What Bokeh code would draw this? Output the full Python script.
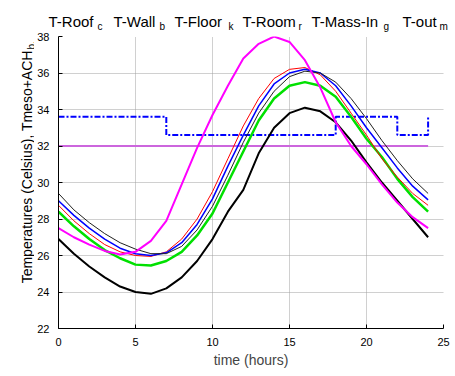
import math
from bokeh.plotting import figure
from bokeh.layouts import column, row
from bokeh.models import Label, SingleIntervalTicker, Range1d
from bokeh.embed import file_html
from bokeh.resources import INLINE

hours = list(range(25))
t_thin_black = [29.4, 28.5, 27.8, 27.2, 26.7, 26.35, 26.1, 26.1, 26.5, 27.4, 28.7, 30.4, 32.2,
                33.8, 35.0, 35.8, 36.1, 36.0, 35.5, 34.6, 33.5, 32.3, 31.2, 30.2, 29.4]
t_blue = [29.0, 28.2, 27.5, 26.9, 26.4, 26.1, 26.0, 26.15, 26.7, 27.7, 29.1, 30.9, 32.6,
          34.2, 35.4, 36.0, 36.2, 36.0, 35.3, 34.2, 33.0, 31.9, 30.8, 29.8, 29.05]
t_red = [28.75, 27.9, 27.2, 26.6, 26.2, 26.0, 25.95, 26.2, 26.9, 28.0, 29.5, 31.3, 33.1,
         34.6, 35.7, 36.2, 36.3, 35.9, 35.0, 33.8, 32.6, 31.3, 30.3, 29.4, 28.75]
t_green = [28.4, 27.6, 26.9, 26.3, 25.85, 25.5, 25.45, 25.7, 26.2, 27.1, 28.3, 30.0, 31.7,
           33.4, 34.6, 35.3, 35.5, 35.3, 34.7, 33.6, 32.4, 31.4, 30.2, 29.2, 28.4]
t_black = [26.9, 26.1, 25.4, 24.8, 24.3, 24.0, 23.9, 24.2, 24.8, 25.7, 26.9, 28.4, 29.6,
           31.6, 33.0, 33.8, 34.1, 33.9, 33.3, 32.3, 31.1, 30.0, 29.0, 28.0, 27.0]
t_out = [27.5, 27.0, 26.6, 26.25, 26.05, 26.2, 26.8, 27.9, 29.9, 31.9, 33.7, 35.3, 36.8,
         37.6, 38.0, 37.7, 36.7, 35.2, 33.3, 32.0, 31.0, 29.9, 28.9, 28.1, 27.5]
t_meso_ach = [33.6] * 7 + [32.6] * 11 + [33.6] * 4 + [32.6] * 2 + [33.6]
t_const = [32.0] * 25

title_items = ["T-Roof", "T-Wall", "T-Floor", "T-Room", "T-Mass-In", "T-out"]
title_subs = ["c", "b", "k", "r", "g", "m"]

FONT = "Liberation Sans"
TITLE_H = 32
YLAB_W = 34
BORDER_L, BORDER_T = 24, 4
MAIN_W = BORDER_L + 385 + 10
TOTAL_W = YLAB_W + MAIN_W
MAIN_H = BORDER_T + 298 + 36


def blank(w, h):
    f = figure(width=w, height=h, output_backend="svg", toolbar_location=None,
               x_range=Range1d(0, w), y_range=Range1d(0, h),
               x_axis_type=None, y_axis_type=None, min_border=0)
    f.outline_line_color = None
    f.grid.visible = False
    return f


# ---- main plot ----
p = figure(width=MAIN_W, height=MAIN_H, output_backend="svg", toolbar_location=None,
           x_range=Range1d(0, 25), y_range=Range1d(22, 38),
           min_border_left=BORDER_L, min_border_right=10, min_border_top=BORDER_T,
           min_border_bottom=36)
p.outline_line_color = None

for ax in (p.xaxis[0], p.yaxis[0]):
    ax.major_tick_in = 4
    ax.major_tick_out = 0
    ax.minor_tick_line_color = None
    ax.axis_line_color = "black"
    ax.major_tick_line_color = "black"
    ax.major_label_text_font = FONT
    ax.major_label_text_font_size = "11px"
    ax.major_label_text_color = "black"
    ax.major_label_standoff = 5
p.xaxis[0].ticker = SingleIntervalTicker(interval=5)
p.yaxis[0].ticker = SingleIntervalTicker(interval=2)
p.xaxis[0].axis_label = "time (hours)"
p.xaxis[0].axis_label_text_font = FONT
p.xaxis[0].axis_label_text_font_size = "14px"
p.xaxis[0].axis_label_text_font_style = "normal"
p.xaxis[0].axis_label_standoff = 3

p.grid.grid_line_color = "#a0a0a0"
p.grid.grid_line_width = 1
p.grid.grid_line_dash = "1 1"
p.xgrid.ticker = SingleIntervalTicker(interval=5)
p.ygrid.ticker = SingleIntervalTicker(interval=2)

p.line(hours, t_const, line_color="#cc66dd", line_width=2)
p.step(hours, t_meso_ach, mode="after", line_color="#0000ff", line_width=2, line_dash="6 2 2 2")
p.line(hours, t_black, line_color="black", line_width=2)
p.line(hours, t_green, line_color="#00e000", line_width=2.5)
p.line(hours, t_red, line_color="#ff0000", line_width=1)
p.line(hours, t_blue, line_color="#0000ff", line_width=1.5)
p.line(hours, t_thin_black, line_color="#202020", line_width=1)
p.line(hours, t_out, line_color="#ff00ff", line_width=2)

# ---- title strip (legend-like names with subscripts) ----
tfig = blank(TOTAL_W, TITLE_H)
main_x = [48, 113, 174, 242, 311, 402]
sub_x = [97, 159, 228, 298, 383, 439]
for txt, sub, mx, sbx in zip(title_items, title_subs, main_x, sub_x):
    tfig.add_layout(Label(x=mx, y=TITLE_H - 20.7, text=txt,
                          text_font=FONT, text_font_size="15px", text_color="black",
                          text_baseline="alphabetic", text_align="left"))
    tfig.add_layout(Label(x=sbx, y=TITLE_H - 26, text=sub,
                          text_font=FONT, text_font_size="10px", text_color="black",
                          text_baseline="alphabetic", text_align="left"))

# ---- y-axis label strip ----
yfig = blank(YLAB_W, MAIN_H)
page_bottom = TITLE_H + MAIN_H
yfig.add_layout(Label(x=26, y=page_bottom - 48,
                      text="Temperatures (Celsius), Tmeso+ACH", angle=math.pi / 2,
                      text_font=FONT, text_font_size="14px", text_color="black",
                      text_baseline="alphabetic", text_align="right"))
yfig.add_layout(Label(x=31, y=page_bottom - 47,
                      text="b.", angle=math.pi / 2,
                      text_font=FONT, text_font_size="10px", text_color="black",
                      text_baseline="alphabetic", text_align="left"))

layout = column(tfig, row(yfig, p, spacing=0), spacing=0)

open("out.html", "w").write(file_html(layout, INLINE))
